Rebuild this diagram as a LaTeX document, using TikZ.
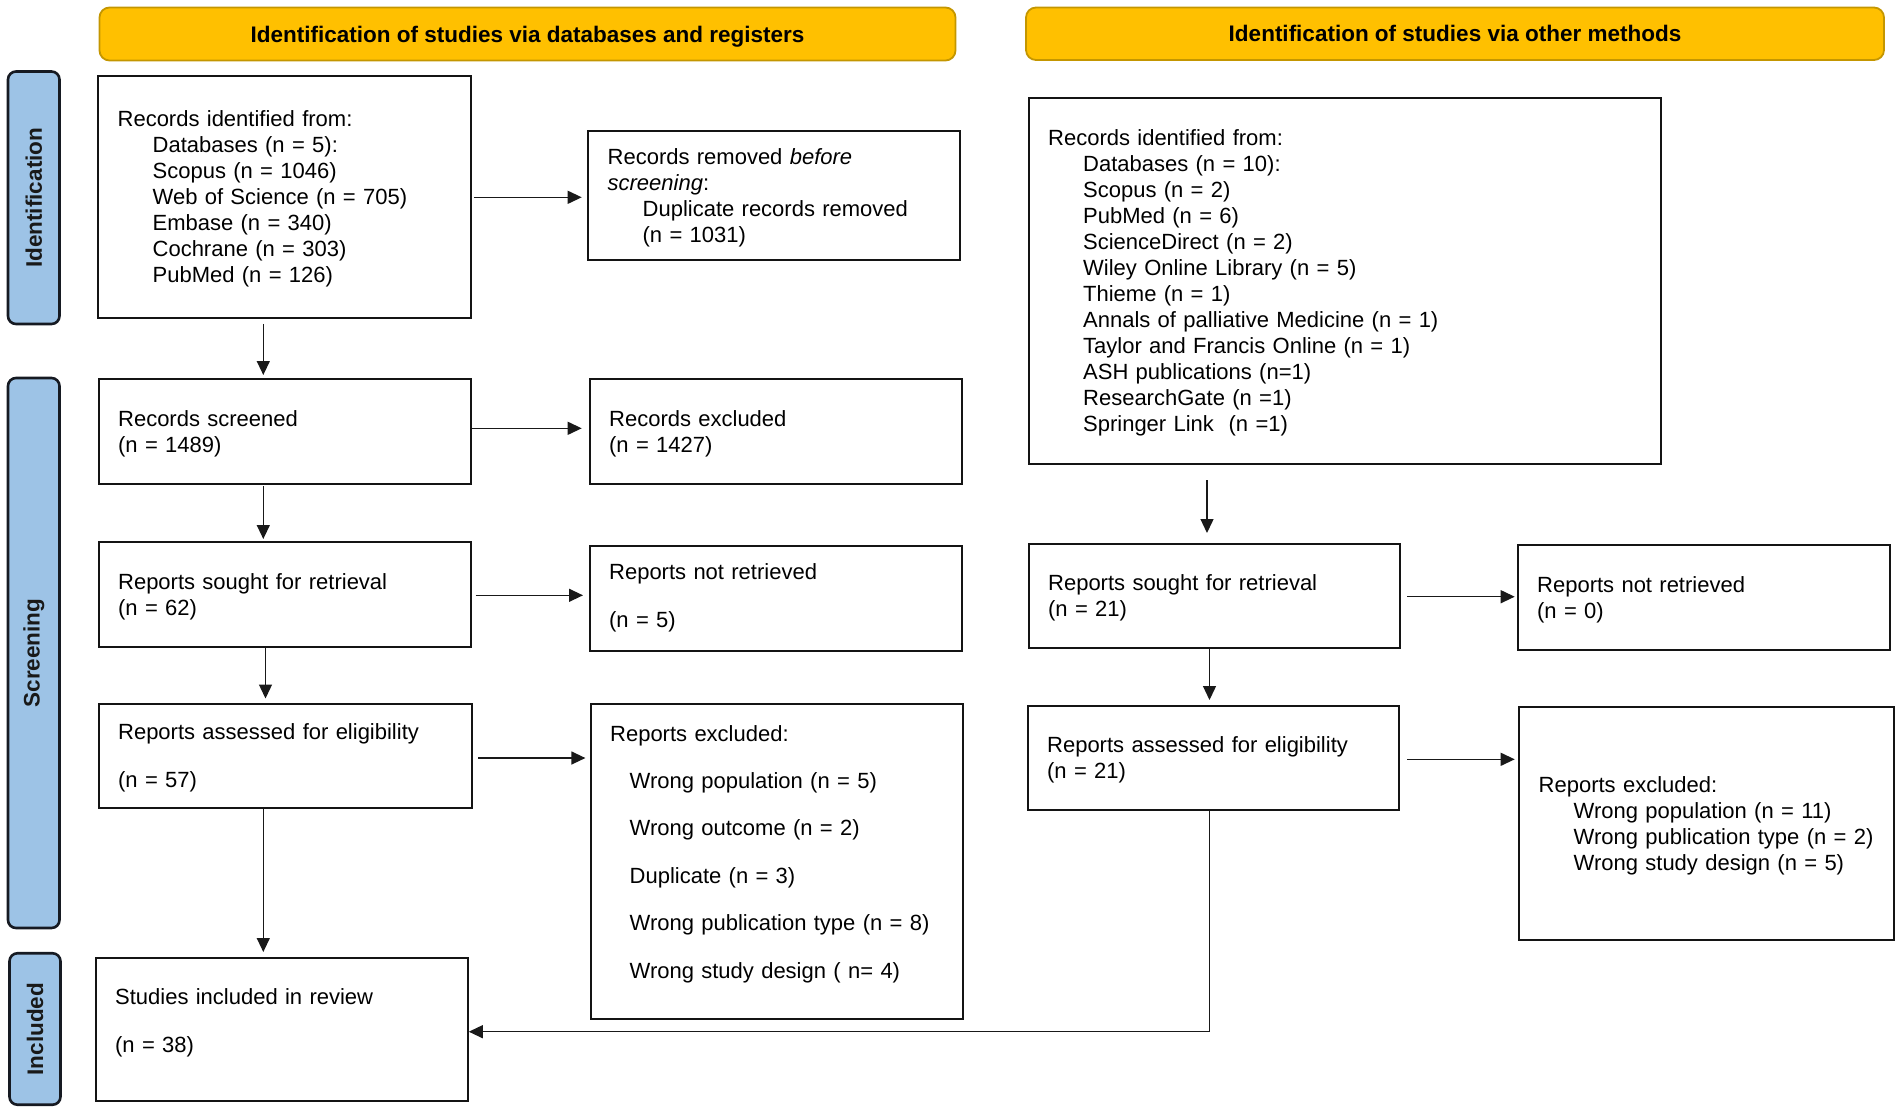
\documentclass[tikz,border=0pt]{standalone}
\usepackage{fontspec}
\setmainfont{Liberation Sans}
\usetikzlibrary{arrows.meta}
\definecolor{goldfill}{RGB}{255,192,0}
\definecolor{goldline}{RGB}{196,150,0}
\definecolor{bluefill}{RGB}{157,195,230}
\definecolor{sideline}{RGB}{22,26,34}
\definecolor{boxline}{RGB}{20,20,20}
\begin{document}
\begin{tikzpicture}[x=1pt,y=-1pt,
  every node/.style={font=\fontsize{22pt}{26pt}\selectfont},
  flowbox/.style={draw=boxline, line width=2.3pt, align=left, inner xsep=19.5pt, inner ysep=0pt, anchor=north west,
    execute at begin node={\rule{0pt}{20.4pt}}},
  header/.style={draw=goldline, line width=1.8pt, fill=goldfill, rounded corners=10pt, font=\fontsize{22.5pt}{26pt}\selectfont\bfseries, inner sep=0pt, text depth=0pt},
  sidebox/.style={draw=sideline, line width=2.6pt, fill=bluefill, rounded corners=8pt, rotate=90, font=\fontsize{22.5pt}{26pt}\selectfont\bfseries, text=black!90, inner sep=0pt},
  arr/.style={-{Triangle[length=14pt,width=13pt]}, line width=1.3pt, draw=black!90}
]
\useasboundingbox (0,0) rectangle (1902,1112);

% headers
\node[header, minimum width=856pt, minimum height=53pt] (H1) at (527.5,34) {Identification of studies via databases and registers};
\node[header, minimum width=858pt, minimum height=52.5pt] (H2) at (1455,33.75) {Identification of studies via other methods};

% side labels
\node[sidebox, minimum width=252.5pt, minimum height=51.5pt] (S1) at (33.75,197.75) {Identification};
\node[sidebox, minimum width=550pt, minimum height=51.5pt] (S2) at (33.75,653) {Screening};
\node[sidebox, minimum width=151.5pt, minimum height=51pt] (S3) at (35,1029) {Included};

% left column
\node[flowbox, text width=333.5pt, minimum height=241.5pt] (B1) at (97,75) {Records identified from:\\
\hspace*{35pt}Databases (n = 5):\\
\hspace*{35pt}Scopus (n = 1046)\\
\hspace*{35pt}Web of Science (n = 705)\\
\hspace*{35pt}Embase (n = 340)\\
\hspace*{35pt}Cochrane (n = 303)\\
\hspace*{35pt}PubMed (n = 126)};

\node[flowbox, text width=332.5pt, minimum height=129pt] (B2) at (587,129.5) {Records removed \textit{before}\\
\textit{screening}:\\
\hspace*{35pt}Duplicate records removed\\
\hspace*{35pt}(n = 1031)};

\node[flowbox, text width=333pt, minimum height=105pt] (B3) at (97.5,377.5) {Records screened\\(n = 1489)};
\node[flowbox, text width=333pt, minimum height=105pt] (B4) at (588.5,377.5) {Records excluded\\(n = 1427)};

\node[flowbox, text width=333pt, minimum height=105pt] (B5) at (97.5,540.5) {Reports sought for retrieval\\(n = 62)};
\node[flowbox, text width=333pt, minimum height=104.5pt] (B6) at (588.5,545) {Reports not retrieved\\[22pt](n = 5)\\[-15pt]\mbox{}};

\node[flowbox, text width=334.5pt, minimum height=104pt] (B7) at (97.5,702.5) {Reports assessed for eligibility\\[22pt](n = 57)};
\node[flowbox, text width=333.5pt, minimum height=315pt] (B8) at (589.5,702.5) {Reports excluded:\\[21.4pt]
\hspace*{19.5pt}Wrong population (n = 5)\\[21.4pt]
\hspace*{19.5pt}Wrong outcome (n = 2)\\[21.4pt]
\hspace*{19.5pt}Duplicate (n = 3)\\[21.4pt]
\hspace*{19.5pt}Wrong publication type (n = 8)\\[21.4pt]
\hspace*{19.5pt}Wrong study design ( n= 4)\\[-2.6pt]\mbox{}};

\node[flowbox, text width=333pt, minimum height=143.5pt] (B9) at (94.5,956.5) {Studies included in review\\[22pt](n = 38)\\[-3pt]\mbox{}};

% right column
\node[flowbox, text width=593pt, minimum height=366pt] (R1) at (1027.5,96.5) {Records identified from:\\
\hspace*{35pt}Databases (n = 10):\\
\hspace*{35pt}Scopus (n = 2)\\
\hspace*{35pt}PubMed (n = 6)\\
\hspace*{35pt}ScienceDirect (n = 2)\\
\hspace*{35pt}Wiley Online Library (n = 5)\\
\hspace*{35pt}Thieme (n = 1)\\
\hspace*{35pt}Annals of palliative Medicine (n = 1)\\
\hspace*{35pt}Taylor and Francis Online (n = 1)\\
\hspace*{35pt}ASH publications (n=1)\\
\hspace*{35pt}ResearchGate (n =1)\\
\hspace*{35pt}Springer Link\ \ (n =1)};

\node[flowbox, text width=332pt, minimum height=104.5pt] (R2) at (1027.5,542.5) {Reports sought for retrieval\\(n = 21)};
\node[flowbox, text width=333pt, minimum height=104.5pt] (R3) at (1516.5,544) {Reports not retrieved\\(n = 0)};

\node[flowbox, text width=332pt, minimum height=104pt] (R4) at (1026.5,704.5) {Reports assessed for eligibility\\(n = 21)};
\node[flowbox, text width=336pt, minimum height=233pt] (R5) at (1518,705.5) {Reports excluded:\\
\hspace*{35pt}Wrong population (n = 11)\\
\hspace*{35pt}\mbox{Wrong publication type (n = 2)}\\
\hspace*{35pt}Wrong study design (n = 5)};

% vertical connectors
\draw[arr, shorten <=5pt, shorten >=2.5pt] (B1.south -| 263.3,0) -- (B3.north -| 263.3,0);
\draw[arr, shorten <=1.5pt, shorten >=1.5pt] (B3.south -| 263.3,0) -- (B5.north -| 263.3,0);
\draw[arr, shorten >=4pt] (B5.south -| 265.5,0) -- (B7.north -| 265.5,0);
\draw[arr, shorten >=4.5pt] (B7.south -| 263.3,0) -- (B9.north -| 263.3,0);
\draw[arr, shorten <=15.5pt, shorten >=9.5pt] (R1.south -| 1207,0) -- (R2.north -| 1207,0);
\draw[arr, shorten >=4.5pt] (R2.south -| 1209.5,0) -- (R4.north -| 1209.5,0);
\draw[arr] (R4.south -| 1209.5,0) |- (B9.east |- 0,1031.7);

% horizontal connectors
\draw[arr, shorten <=2pt, shorten >=5.3pt] (B1.east |- 0,197.3) -- (B2.west |- 0,197.3);
\draw[arr, shorten <=0.5pt, shorten >=6.8pt] (B3.east |- 0,428.3) -- (B4.west |- 0,428.3);
\draw[arr, shorten <=3.9pt, shorten >=5.5pt] (B5.east |- 0,595.3) -- (B6.west |- 0,595.3);
\draw[arr, shorten <=4.8pt, shorten >=4.1pt] (B7.east |- 0,758) -- (B8.west |- 0,758);
\draw[arr, shorten <=6.2pt, shorten >=1.8pt] (R2.east |- 0,596.7) -- (R3.west |- 0,596.7);
\draw[arr, shorten <=7.2pt, shorten >=3.3pt] (R4.east |- 0,759.3) -- (R5.west |- 0,759.3);
\end{tikzpicture}
\end{document}
